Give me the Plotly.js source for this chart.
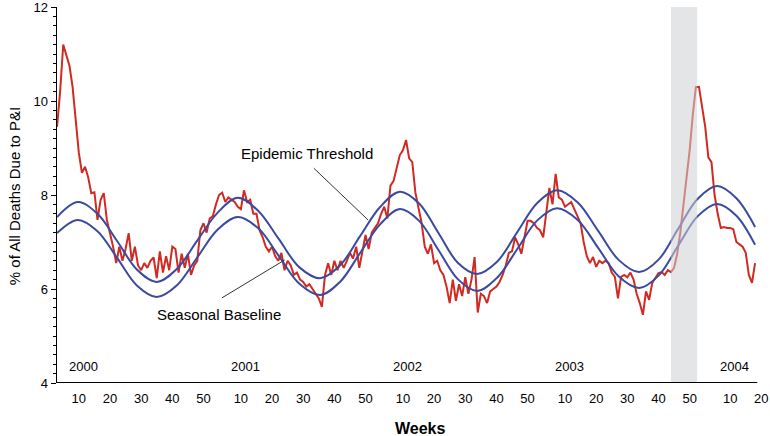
<!DOCTYPE html>
<html><head><meta charset="utf-8">
<script src="https://cdn.plot.ly/plotly-3.0.1.min.js"></script>
<style>html,body{margin:0;padding:0;background:#fff;}#chart{width:770px;height:436px;}</style>
</head><body><div id="chart"></div>
<script>
// ---- data ----
const years = [2000, 2001, 2002, 2003, 2004];
const weeksInYear = [52, 52, 52, 53, 52];
const firstWeek = [3, 1, 1, 1, 1];
const pi2000 = [9.45,10.2,11.2,11.0,10.75,10.3,9.6,8.9,8.47,8.6, 8.38,8.04,8.06,7.47,7.9,8.04,7.47,7.2,6.9,6.55,
  6.9,6.6,6.85,7.19,6.6,6.9,6.5,6.4,6.55,6.45, 6.6,6.67,6.23,6.8,6.35,6.7,6.4,6.9,6.85,6.35,
  6.75,6.45,6.75,6.3,6.5,6.6,7.25,7.4,7.2,7.5];
const pi2001 = [7.55,7.8,8.0,8.05,7.85,7.95,7.9,7.85,7.75,7.7, 8.1,7.85,7.9,7.6,7.6,7.25,7.1,6.9,6.8,6.9,
  6.7,6.6,6.77,6.4,6.6,6.5,6.3,6.35,6.2,6.15, 6.05,6.1,6.0,5.9,5.8,5.62,6.3,6.55,6.3,6.6,
  6.4,6.6,6.45,6.6,6.77,6.65,6.9,6.45,6.8,7.15, 6.85,7.2];
const pi2002 = [7.3,7.4,7.6,7.75,7.5,8.2,8.3,8.55,8.85,8.95, 9.17,8.78,8.7,8.05,7.75,7.4,6.9,6.75,6.95,6.55,
  6.6,6.4,6.3,6.05,5.7,6.2,5.75,6.1,5.85,6.25, 5.9,6.2,6.68,5.5,5.9,5.85,5.7,5.95,6.0,6.05,
  6.15,6.3,6.5,6.77,6.8,7.1,6.95,6.75,7.1,7.45, 7.45,7.4];
const pi2003 = [7.3,7.25,7.1,7.6,8.15,7.8,8.45,7.95,7.9,7.75, 7.8,7.85,7.7,7.55,7.4,7.0,6.7,6.55,6.68,6.47,
  6.6,6.55,6.6,6.55,6.35,6.26,5.8,6.26,6.3,6.25, 6.35,6.2,5.9,5.7,5.45,5.95,5.77,6.13,6.25,6.34,
  6.36,6.3,6.4,6.36,6.45,6.75,7.2,7.75,8.35,8.95, 9.7,10.3,10.3];
const pi2004 = [9.87,9.45,8.8,8.7,8.0,7.6,7.3,7.32,7.3,7.3,7.27,7.0,6.95,6.9,6.77,6.3,6.13,6.55];
const piByYear = [pi2000, pi2001, pi2002, pi2003, pi2004];

const tickWeeks = [[10,20,30,40,50],[10,20,30,40,50],[10,20,30,40,50],[10,20,30,40,50],[10,20]];

// smooth curves, read at points along the continuous week index (2000 week 1 = 1)
const curveWeeks = [3,9.7,16,22.4,28.7,35,41.5,48,54.5,61,67.6,74.2,80.8,87.4,93.8,100.2,106.6,113,119.2,125.4,
  131.6,137.8,144.2,150.7,157.1,163.5,170.1,176.7,183.2,189.8,196.1,202.3,208.6,214.8,221,227];
const baseline = [7.19,7.47,7.23,6.65,6.07,5.83,6.08,6.67,7.26,7.53,7.29,6.70,6.11,5.87,6.15,6.76,7.37,7.70,7.45,6.83,
  6.21,5.96,6.24,6.85,7.46,7.72,7.47,6.87,6.27,6.02,6.29,6.92,7.55,7.81,7.56,6.94];
const threshold = [7.53,7.85,7.6,7.01,6.41,6.15,6.43,7.03,7.62,7.94,7.66,7.06,6.46,6.23,6.5,7.12,7.74,8.07,7.82,7.19,
  6.56,6.32,6.58,7.21,7.83,8.1,7.84,7.23,6.62,6.36,6.63,7.28,7.92,8.19,7.93,7.32];

const highlightYear = 2003;
const highlightWeeks = [44, 52.4];

// ---- build ----
const offset = [];
let acc = 0;
for (let i = 0; i < years.length; i++) { offset.push(acc); acc += weeksInYear[i]; }

const px = [], py = [];
piByYear.forEach((arr, i) => {
  arr.forEach((v, j) => { px.push(offset[i] + firstWeek[i] + j); py.push(v); });
});

const tickvals = [], ticktext = [];
tickWeeks.forEach((ws, i) => ws.forEach(w => { tickvals.push(offset[i] + w); ticktext.push(String(w)); }));

const hi = years.indexOf(highlightYear);
const xMin = 3, xMax = 230.5, axisEnd = 227.7;

const font = 'Arial, "Liberation Sans", sans-serif';

const traces = [
  {x: px, y: py, type: 'scatter', mode: 'lines', line: {color: '#d02a22', width: 2}, hoverinfo: 'skip'},
  {x: curveWeeks, y: baseline, type: 'scatter', mode: 'lines', line: {color: '#3a4aa0', width: 2, shape: 'spline', smoothing: 1}, hoverinfo: 'skip'},
  {x: curveWeeks, y: threshold, type: 'scatter', mode: 'lines', line: {color: '#3a4aa0', width: 2, shape: 'spline', smoothing: 1}, hoverinfo: 'skip'}
];

const annotations = [];
years.forEach((yr, i) => {
  annotations.push({x: offset[i] + 11.5, y: 4.36, xref: 'x', yref: 'y', text: String(yr), showarrow: false,
    font: {family: font, size: 13, color: '#000'}, xanchor: 'center', yanchor: 'middle'});
});
annotations.push({x: 83.2, y: 8.89, xref: 'x', yref: 'y', text: 'Epidemic Threshold', showarrow: false,
  font: {family: font, size: 15, color: '#000'}, xanchor: 'center', yanchor: 'middle'});
annotations.push({x: 54.9, y: 5.45, xref: 'x', yref: 'y', text: 'Seasonal Baseline', showarrow: false,
  font: {family: font, size: 15, color: '#000'}, xanchor: 'center', yanchor: 'middle'});
annotations.push({x: 0.512, y: -0.12, xref: 'paper', yref: 'paper', text: '<b>Weeks</b>', showarrow: false,
  font: {family: font, size: 16, color: '#000'}, xanchor: 'center', yanchor: 'middle'});
annotations.push({x: -0.0606, y: 0.497, xref: 'paper', yref: 'paper', text: '% of All Deaths Due to P&I', showarrow: false,
  textangle: -90, font: {family: font, size: 15, color: '#000'}, xanchor: 'center', yanchor: 'middle'});

const shapes = [
  {type: 'rect', xref: 'x', yref: 'y', x0: offset[hi] + highlightWeeks[0], x1: offset[hi] + highlightWeeks[1], y0: 4, y1: 12,
   fillcolor: 'rgba(205,207,209,0.55)', line: {width: 0}, layer: 'above'},
  {type: 'line', xref: 'x', yref: 'y', x0: 85.4, y0: 8.57, x1: 102.8, y1: 7.47, line: {color: '#333', width: 1}},
  {type: 'line', xref: 'x', yref: 'y', x0: 55.9, y0: 5.81, x1: 76.1, y1: 6.62, line: {color: '#333', width: 1}},
  {type: 'line', xref: 'x', yref: 'y', x0: xMin, x1: axisEnd, y0: 4, y1: 4, line: {color: '#000', width: 2}}
];

const layout = {
  width: 770, height: 436,
  margin: {l: 57, r: 4, t: 7, b: 53, pad: 0},
  paper_bgcolor: '#fff', plot_bgcolor: '#fff',
  showlegend: false,
  font: {family: font, size: 13, color: '#000'},
  xaxis: {range: [xMin, xMax], tickvals: tickvals, ticktext: ticktext, showgrid: false, zeroline: false,
    showline: false, ticks: '', ticklabelstandoff: 6, tickfont: {family: font, size: 13, color: '#000'}, fixedrange: true},
  yaxis: {range: [4, 12], tickvals: [4, 6, 8, 10, 12], showgrid: false, zeroline: false, showline: true,
    linecolor: '#000', linewidth: 1.5, ticks: 'outside', ticklen: 5, tickcolor: '#000', tickwidth: 1,
    ticklabeloverflow: 'allow',
    minor: {dtick: 0.2, ticks: 'outside', ticklen: 3, tickcolor: '#000', tickwidth: 1},
    tickfont: {family: font, size: 13, color: '#000'}, fixedrange: true},
  annotations: annotations,
  shapes: shapes
};

Plotly.newPlot('chart', traces, layout, {displayModeBar: false, staticPlot: true});
</script>
</body></html>
